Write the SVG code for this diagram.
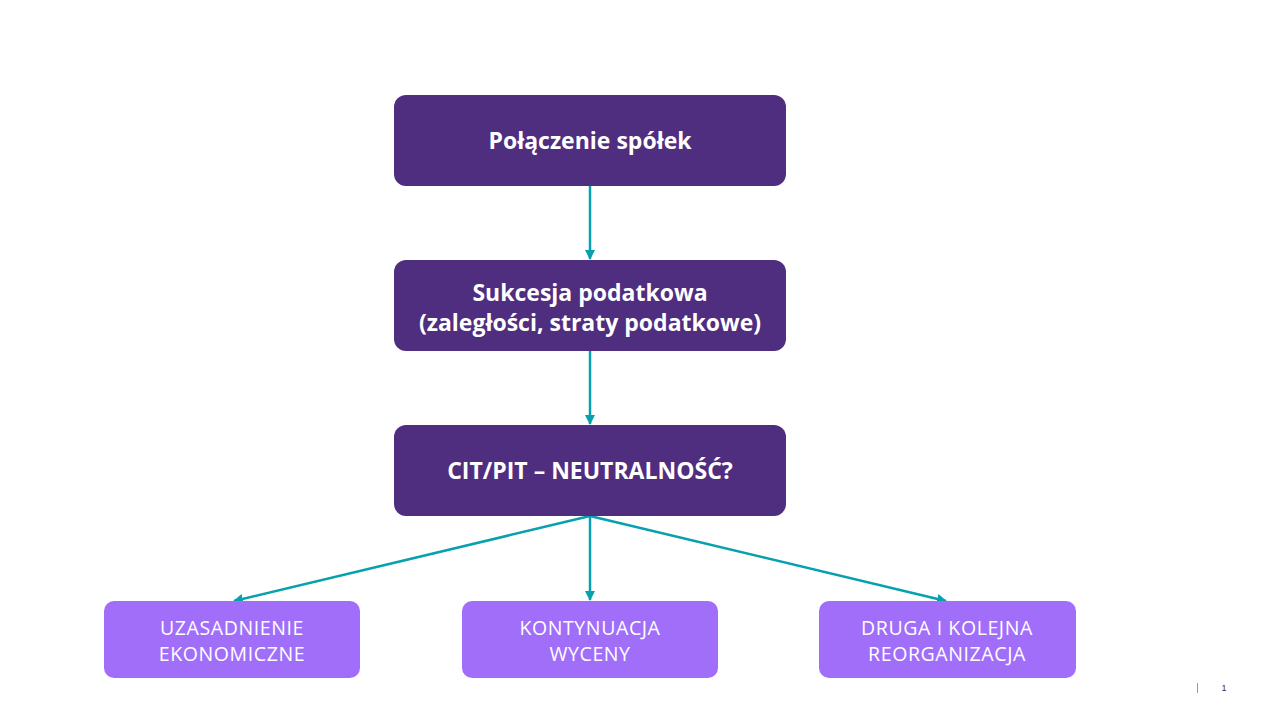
<svg xmlns="http://www.w3.org/2000/svg" width="1280" height="720" viewBox="0 0 1280 720">
<style>
.dark{fill:#4f2d7f}
.light{fill:#a16efa}
.t1{font-family:"Open Sans","Liberation Sans",sans-serif;font-weight:bold;font-size:23px;fill:#fff;text-anchor:middle}
.t2{font-family:"Open Sans","Liberation Sans",sans-serif;font-size:19.5px;letter-spacing:0.6px;fill:#fff;text-anchor:middle}
.c{stroke:#06a0ae;stroke-width:2.5;fill:none}
</style>
<defs>
<marker id="ah" viewBox="0 0 10 10" refX="9" refY="5" markerWidth="4" markerHeight="4" orient="auto" markerUnits="strokeWidth">
<path d="M0,0 L10,5 L0,10 z" fill="#06a0ae"/>
</marker>
</defs>
<rect width="1280" height="720" fill="#fff"/>
<g id="connectors">
<line class="c" x1="590" y1="186" x2="590" y2="259" marker-end="url(#ah)"/>
<line class="c" x1="590" y1="351" x2="590" y2="424" marker-end="url(#ah)"/>
<line class="c" x1="590" y1="516" x2="590" y2="600" marker-end="url(#ah)"/>
<line class="c" x1="590" y1="516" x2="234" y2="601" marker-end="url(#ah)"/>
<line class="c" x1="590" y1="516" x2="946" y2="601" marker-end="url(#ah)"/>
</g>
<g id="n1"><rect class="dark" x="394" y="95" width="392" height="91" rx="12"/><text class="t1" x="590" y="149">Połączenie spółek</text></g>
<g id="n2"><rect class="dark" x="394" y="260" width="392" height="91" rx="12"/><text class="t1" x="590" y="301">Sukcesja podatkowa</text><text class="t1" x="590" y="331">(zaległości, straty podatkowe)</text></g>
<g id="n3"><rect class="dark" x="394" y="425" width="392" height="91" rx="12"/><text class="t1" x="590" y="479">CIT/PIT – NEUTRALNOŚĆ?</text></g>
<g id="n4"><rect class="light" x="104" y="601" width="256" height="77" rx="10"/><text class="t2" x="232" y="635">UZASADNIENIE</text><text class="t2" x="232" y="661">EKONOMICZNE</text></g>
<g id="n5"><rect class="light" x="462" y="601" width="256" height="77" rx="10"/><text class="t2" x="590" y="635">KONTYNUACJA</text><text class="t2" x="590" y="661">WYCENY</text></g>
<g id="n6"><rect class="light" x="819" y="601" width="257" height="77" rx="10"/><text class="t2" x="947" y="635">DRUGA I KOLEJNA</text><text class="t2" x="947" y="661">REORGANIZACJA</text></g>
<g id="footer"><line x1="1197.5" y1="683" x2="1197.5" y2="693" stroke="#999" stroke-width="1"/><text x="1224" y="691" font-family="'Liberation Sans',sans-serif" font-size="9" fill="#333" text-anchor="middle">1</text></g>
</svg>
